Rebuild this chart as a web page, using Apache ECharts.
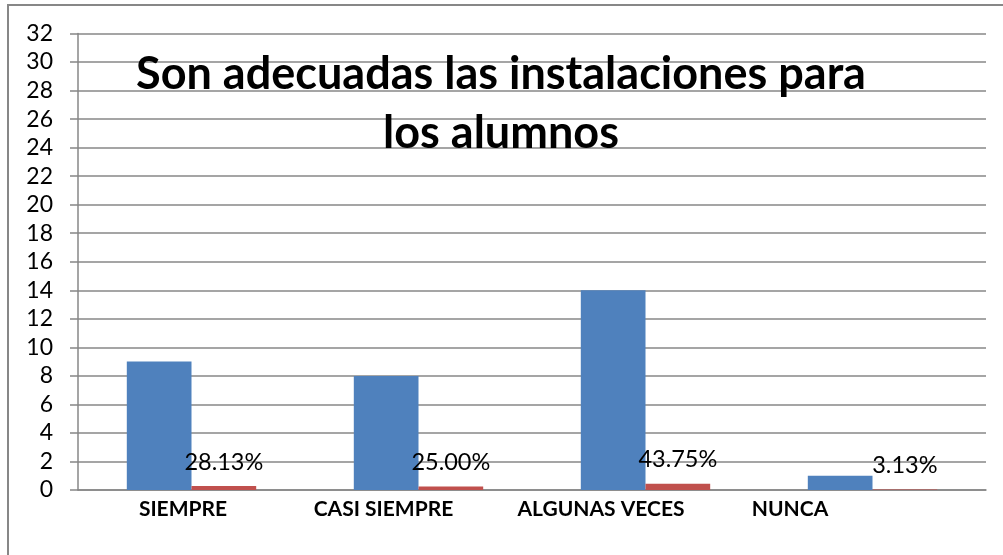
<!DOCTYPE html>
<html>
<head>
<meta charset="utf-8">
<script src="https://cdn.jsdelivr.net/npm/echarts@6/dist/echarts.min.js"></script>
<style>
    html, body { margin: 0; padding: 0; background: #fff; }
    #chart { width: 1003px; height: 555px; }
</style>
</head>
<body>
<div id="chart"></div>
<script>
// chart data
var categories = ['SIEMPRE', 'CASI SIEMPRE', 'ALGUNAS VECES', 'NUNCA'];
var frecuencia = [9, 8, 14, 1];
var porcentaje = [0.2813, 0.25, 0.4375, 0.0313];
var yTicks = [0, 32, 2]; // min, max, interval
var chartTitle = 'Son adecuadas las instalaciones para\nlos alumnos';

// labels in the original sit left of the category centre
var labelShift = [17, 70, 89, 165];

var gridColor = '#878787';
var fontFamily = 'Lato, "Open Sans", sans-serif';

var chart = echarts.init(document.getElementById('chart'));

chart.setOption({
    animation: false,
    title: {
        text: chartTitle,
        left: 501,
        top: 45,
        padding: 0,
        textAlign: 'center',
        textStyle: {
            fontFamily: fontFamily,
            fontWeight: 'bold',
            fontSize: 45,
            lineHeight: 59,
            color: '#000'
        }
    },
    graphic: [{
        type: 'rect',
        shape: { x: 8, y: 5, width: 1000, height: 560 },
        style: { fill: 'none', stroke: gridColor, lineWidth: 2 },
        silent: true
    }],
    grid: { left: 78, right: 17, top: 33.5, bottom: 65 },
    xAxis: {
        type: 'category',
        data: categories.map(function (c, i) {
            return { value: c, textStyle: { padding: [0, labelShift[i], 0, 0] } };
        }),
        axisLine: { lineStyle: { color: gridColor, width: 1.5 } },
        axisTick: { show: false },
        axisLabel: {
            margin: 9,
            fontFamily: fontFamily,
            fontWeight: 'bold',
            fontSize: 21,
            color: '#000'
        }
    },
    yAxis: {
        type: 'value',
        min: yTicks[0],
        max: yTicks[1],
        interval: yTicks[2],
        axisLine: { show: true, lineStyle: { color: gridColor, width: 1.5 } },
        axisTick: { show: true, length: 8, lineStyle: { color: gridColor, width: 1.5 } },
        splitLine: { lineStyle: { color: gridColor, width: 1.5 } },
        axisLabel: {
            margin: 25,
            fontFamily: fontFamily,
            fontSize: 23,
            color: '#000'
        }
    },
    series: [{
        type: 'bar',
        data: frecuencia,
        barGap: '0%',
        barCategoryGap: '43%',
        itemStyle: { color: '#4F81BD' }
    }, {
        type: 'bar',
        data: porcentaje,
        itemStyle: { color: '#C0504D' },
        label: {
            show: true,
            position: 'top',
            distance: 12,
            fontFamily: fontFamily,
            fontSize: 23.5,
            color: '#000',
            formatter: function (p) {
                return (p.value * 100).toFixed(2) + '%';
            }
        }
    }]
});
</script>
</body>
</html>
